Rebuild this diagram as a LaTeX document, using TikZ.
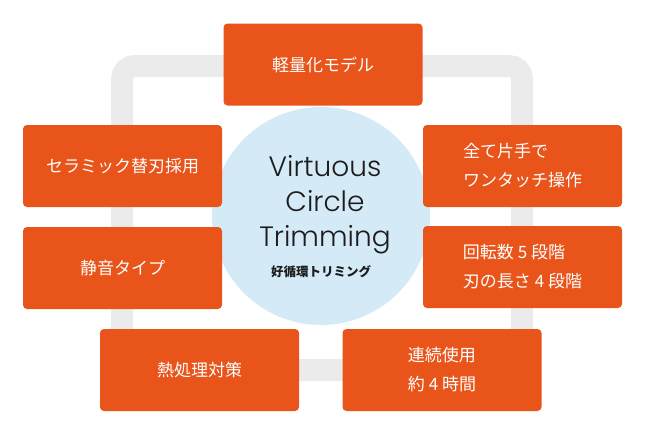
\documentclass[tikz,border=0pt]{standalone}
\usepackage{fontspec}
\setmainfont{Noto Sans CJK JP}
\newfontfamily\titlefont{Poppins}[UprightFont=* Light]
\usetikzlibrary{positioning}

\definecolor{boxorange}{HTML}{E8541A}
\definecolor{ringgray}{HTML}{EBEBEB}
\definecolor{hubblue}{HTML}{D4EAF7}
\definecolor{inkdark}{HTML}{1C1C1C}

\tikzset{
  feature/.style={fill=boxorange,text=white,rounded corners=4pt,
    minimum width=199pt,minimum height=82pt,inner sep=0pt,align=left,
    font=\fontsize{17}{29}\selectfont},
  ringline/.style={draw=ringgray,line width=22pt,rounded corners=13pt},
}

\begin{document}
\begin{tikzpicture}[x=1pt,y=-1pt]
  \useasboundingbox (0,0) rectangle (650,423);

  % --- gray loop behind everything ---
  \coordinate (nw) at (122,66);
  \coordinate (se) at (522,370);
  \draw[ringline] (nw) rectangle (se);

  % --- hub circle with title ---
  \fill[hubblue] (321,216) circle (109);
  \node[text=inkdark,align=center,font=\titlefont\fontsize{28}{35}\selectfont]
    (title) at (325,205) {Virtuous\\Circle\\Trimming};
  \node[text=inkdark,font=\bfseries\fontsize{12.5}{14}\selectfont]
    (subtitle) at (321,272) {好循環トリミング};

  % --- feature boxes around the loop ---
  \node[feature] (light)   at (323,64.5)  {軽量化モデル};
  \node[feature] (ceramic) at (122.5,166) {セラミック替刃採用};
  \node[feature] (quiet)   at (122.5,268) {静音タイプ};
  \node[feature] (onehand) at (522.5,166) {全て片手で\\ワンタッチ操作};
  \node[feature] (steps)   at (522.5,267) {回転数 5 段階\\刃の長さ 4 段階};
  \node[feature] (heat)    at (199.5,370) {熱処理対策};
  \node[feature] (runtime) at (442,370)   {連続使用\\約 4 時間};
\end{tikzpicture}
\end{document}
